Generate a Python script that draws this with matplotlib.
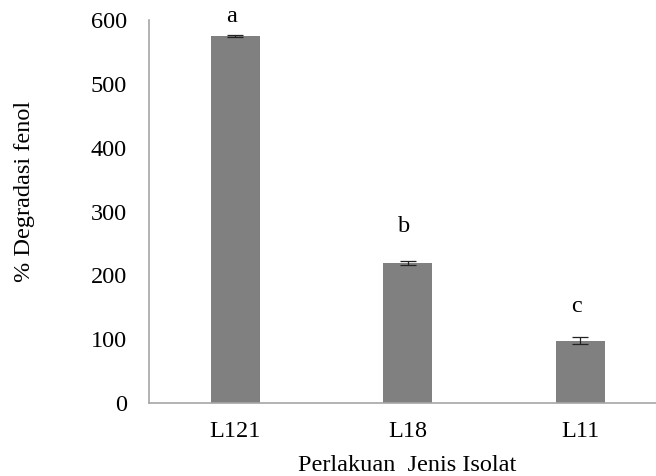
import numpy as np
import matplotlib.pyplot as plt

plt.rcParams['font.family'] = ['Liberation Serif', 'DejaVu Serif']

isolates = ['L121', 'L18', 'L11']
degradation = [575, 220, 98]
errors = [2, 3, 5]
letters = ['a', 'b', 'c']
letter_y = [605, 276, 152]

fig = plt.figure(figsize=(6.56, 4.76), dpi=100)
ax = fig.add_axes([0.227, 0.153, 0.773, 0.805])

x = np.arange(len(isolates))
ax.bar(x, degradation, width=0.285, color='#808080', zorder=2)
ax.errorbar(x, degradation, yerr=errors, fmt='none', ecolor='#222222',
            elinewidth=0.9, capsize=5.5, capthick=0.9, zorder=3)

for xi, lab, ly in zip(x, letters, letter_y):
    ax.text(xi - 0.02, ly, lab, ha='center', va='center', fontsize=17.5, clip_on=False)

ax.set_xlim(-0.5, 2.44)
ax.set_ylim(0, 600)
ax.set_yticks(range(0, 601, 100))
ax.set_xticks(x)
ax.set_xticklabels(isolates)

for side in ['top', 'right']:
    ax.spines[side].set_visible(False)
for side in ['left', 'bottom']:
    ax.spines[side].set_color('#a6a6a6')
    ax.spines[side].set_linewidth(1.2)

ax.tick_params(axis='y', length=0, pad=16, labelsize=17.5)
ax.tick_params(axis='x', length=0, pad=13, labelsize=17.5)

ax.set_ylabel('% Degradasi fenol', fontsize=17.5)
ax.yaxis.set_label_coords(-0.225, 0.553)
ax.set_xlabel('Perlakuan  Jenis Isolat', fontsize=17.5)
ax.xaxis.set_label_coords(0.509, -0.136)

fig.savefig('out.png', dpi=100)
